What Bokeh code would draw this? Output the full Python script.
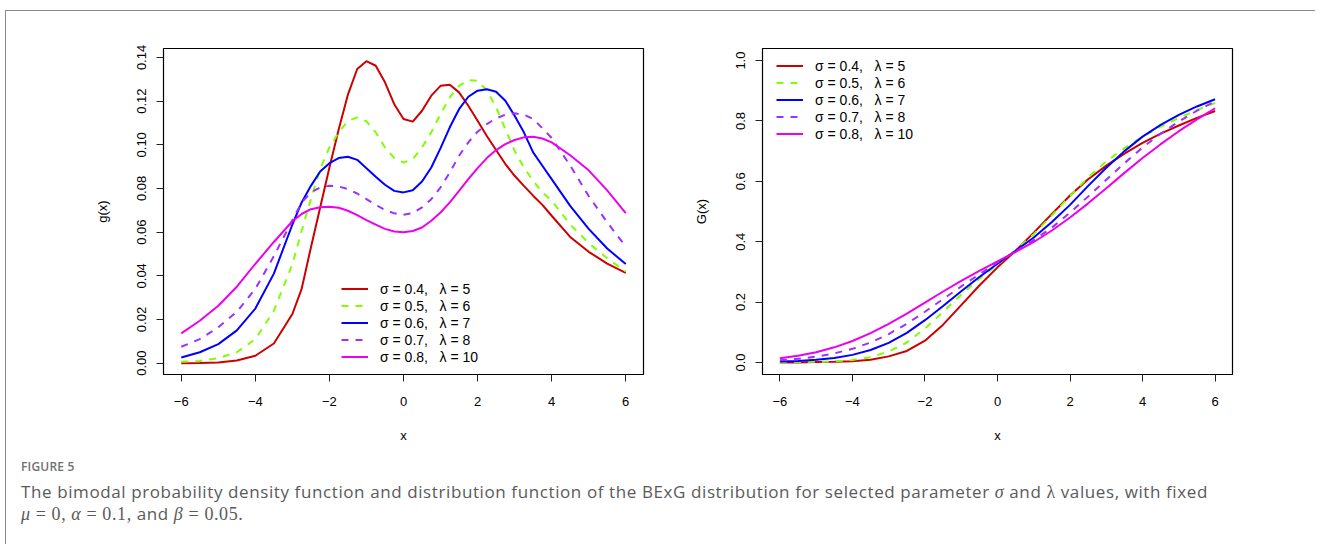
from bokeh.plotting import figure
from bokeh.models import Legend, LegendItem, Range1d, Div, FixedTicker
from bokeh.layouts import column, row
from bokeh.embed import file_html
from bokeh.resources import INLINE

# ---------------- data ----------------
series_labels = ["σ = 0.4,\u00a0\u00a0\u00a0λ = 5",
                 "σ = 0.5,\u00a0\u00a0\u00a0λ = 6",
                 "σ = 0.6,\u00a0\u00a0\u00a0λ = 7",
                 "σ = 0.7,\u00a0\u00a0\u00a0λ = 8",
                 "σ = 0.8,\u00a0\u00a0\u00a0λ = 10"]

# density g(x)
x_pdf = [-6.0, -5.5, -5.0, -4.5, -4.0, -3.5,
         -3.0, -2.75, -2.5, -2.25, -2.0, -1.75, -1.5, -1.25, -1.0, -0.75, -0.5, -0.25,
         0.0, 0.25, 0.5, 0.75, 1.0, 1.25, 1.5, 1.75, 2.0, 2.25, 2.5, 2.75,
         3.0, 3.25, 3.5, 3.75, 4.0, 4.5, 5.0, 5.5, 6.0]
pdf_s04 = [0.0000, 0.0001, 0.0003, 0.0012, 0.0034, 0.0090,
           0.0225, 0.0340, 0.0530, 0.0713, 0.0896, 0.1070, 0.1230, 0.1347, 0.1383, 0.1362,
           0.1286, 0.1186, 0.1118, 0.1106, 0.1156, 0.1225, 0.1270, 0.1275, 0.1240, 0.1179,
           0.1110, 0.1040, 0.0976, 0.0912, 0.0858, 0.0812, 0.0767, 0.0725, 0.0675,
           0.0578, 0.0510, 0.0456, 0.0413]
pdf_s05 = [0.0006, 0.0010, 0.0023, 0.0050, 0.0110, 0.0240,
           0.0453, 0.0606, 0.0751, 0.0889, 0.0988, 0.1057, 0.1110, 0.1125, 0.1107, 0.1057,
           0.0988, 0.0939, 0.0919, 0.0934, 0.0988, 0.1057, 0.1141, 0.1217, 0.1270, 0.1296,
           0.1293, 0.1250, 0.1171, 0.1072, 0.0973, 0.0896, 0.0835, 0.0782, 0.0744,
           0.0635, 0.0550, 0.0480, 0.0420]
pdf_s06 = [0.0026, 0.0050, 0.0087, 0.0150, 0.0250, 0.0410,
           0.0635, 0.0736, 0.0812, 0.0878, 0.0916, 0.0939, 0.0945, 0.0931, 0.0893, 0.0854,
           0.0817, 0.0789, 0.0782, 0.0792, 0.0832, 0.0896, 0.0985, 0.1080, 0.1163, 0.1220,
           0.1248, 0.1254, 0.1243, 0.1202, 0.1133, 0.1057, 0.0965, 0.0904, 0.0843,
           0.0720, 0.0615, 0.0525, 0.0454]
pdf_s07 = [0.0075, 0.0110, 0.0164, 0.0235, 0.0340, 0.0490,
           0.0655, 0.0736, 0.0782, 0.0805, 0.0812, 0.0809, 0.0797, 0.0777, 0.0751, 0.0725,
           0.0701, 0.0686, 0.0680, 0.0687, 0.0713, 0.0751, 0.0805, 0.0873, 0.0950, 0.1011,
           0.1060, 0.1095, 0.1121, 0.1138, 0.1144, 0.1138, 0.1118, 0.1076, 0.1031,
           0.0905, 0.0765, 0.0645, 0.0534]
pdf_s08 = [0.0136, 0.0194, 0.0263, 0.0350, 0.0455, 0.0555,
           0.0650, 0.0683, 0.0705, 0.0714, 0.0716, 0.0712, 0.0698, 0.0678, 0.0655, 0.0634,
           0.0615, 0.0603, 0.0599, 0.0605, 0.0621, 0.0652, 0.0690, 0.0736, 0.0789, 0.0843,
           0.0893, 0.0939, 0.0976, 0.1003, 0.1022, 0.1034, 0.1037, 0.1029, 0.1011,
           0.0952, 0.0883, 0.0791, 0.0687]

# distribution function G(x)
x_cdf = [-6.0, -5.5, -5.0, -4.5, -4.0, -3.5, -3.0, -2.5, -2.0, -1.5, -1.0, -0.5,
         0.0, 0.5, 1.0, 1.5, 2.0, 2.5, 3.0, 3.5, 4.0, 4.5, 5.0, 5.5, 6.0]
cdf_s04 = [0.000, 0.000, 0.001, 0.002, 0.004, 0.009, 0.020, 0.038, 0.072, 0.125,
           0.190, 0.255, 0.315, 0.370, 0.430, 0.492, 0.553, 0.607, 0.652, 0.692,
           0.727, 0.758, 0.785, 0.810, 0.833]
cdf_s05 = [0.000, 0.001, 0.002, 0.004, 0.008, 0.017, 0.036, 0.066, 0.112, 0.168,
           0.225, 0.277, 0.324, 0.372, 0.425, 0.487, 0.551, 0.613, 0.666, 0.710,
           0.748, 0.781, 0.810, 0.836, 0.860]
cdf_s06 = [0.003, 0.005, 0.009, 0.015, 0.025, 0.041, 0.065, 0.098, 0.140, 0.187,
           0.236, 0.283, 0.327, 0.370, 0.414, 0.465, 0.522, 0.585, 0.645, 0.700,
           0.748, 0.787, 0.820, 0.848, 0.872]
cdf_s07 = [0.007, 0.012, 0.019, 0.030, 0.045, 0.066, 0.094, 0.128, 0.168, 0.210,
           0.252, 0.292, 0.331, 0.368, 0.405, 0.447, 0.496, 0.550, 0.605, 0.660,
           0.712, 0.758, 0.798, 0.834, 0.865]
cdf_s08 = [0.014, 0.022, 0.034, 0.050, 0.071, 0.097, 0.128, 0.162, 0.198, 0.235,
           0.270, 0.303, 0.335, 0.366, 0.399, 0.437, 0.480, 0.527, 0.577, 0.628,
           0.677, 0.723, 0.766, 0.805, 0.842]

x_ticks = [-6, -4, -2, 0, 2, 4, 6]
x_tick_labels = ["\u22126", "\u22124", "\u22122", "0", "2", "4", "6"]
g_ticks = [0.0, 0.02, 0.04, 0.06, 0.08, 0.10, 0.12, 0.14]
g_tick_labels = ["0.00", "0.02", "0.04", "0.06", "0.08", "0.10", "0.12", "0.14"]
G_ticks = [0.0, 0.2, 0.4, 0.6, 0.8, 1.0]
G_tick_labels = ["0.0", "0.2", "0.4", "0.6", "0.8", "1.0"]

caption_title = "FIGURE 5"

# ---------------- styling ----------------
colors = ["#CD0000", "#7FFF00", "#0000FF", "#9B30FF", "#EE00EE"]
dashes = ["solid", "7 7", "solid", "7 7", "solid"]
TICK_FONT = "Liberation Sans"


def make_panel(xs, ys, yticks, ylabels, y_range, ylab, width, bleft, bright, legend_loc):
    p = figure(width=width, height=438, output_backend="svg", toolbar_location=None,
               x_range=Range1d(-6.48, 6.48), y_range=y_range,
               min_border_left=bleft, min_border_right=bright,
               min_border_top=37, min_border_bottom=75)
    p.grid.visible = False
    p.outline_line_color = "black"
    p.outline_line_width = 1.2
    p.background_fill_color = "white"
    p.border_fill_color = "white"

    rs = []
    for y, c, d in zip(ys, colors, dashes):
        r = p.line(xs, y, line_color=c, line_width=2, line_dash=d)
        rs.append(r)

    for ax in (p.xaxis[0], p.yaxis[0]):
        ax.axis_line_color = None
        ax.major_tick_in = 0
        ax.major_tick_out = 7
        ax.major_tick_line_color = "#222222"
        ax.minor_tick_line_color = None
        ax.major_label_text_font = TICK_FONT
        ax.major_label_text_font_size = "13px"
        ax.major_label_text_color = "black"
        ax.axis_label_text_font = TICK_FONT
        ax.axis_label_text_font_size = "13px"
        ax.axis_label_text_font_style = "normal"
        ax.axis_label_text_color = "black"

    p.xaxis.ticker = FixedTicker(ticks=x_ticks)
    p.xaxis.major_label_overrides = dict(zip(x_ticks, x_tick_labels))
    p.xaxis.major_label_standoff = 15
    p.xaxis.axis_label = "x"
    p.xaxis.axis_label_standoff = 19

    p.yaxis.ticker = FixedTicker(ticks=yticks)
    p.yaxis.major_label_overrides = dict(zip(yticks, ylabels))
    p.yaxis.major_label_orientation = "vertical"
    p.yaxis.major_label_standoff = 10
    p.yaxis.axis_label = ylab
    p.yaxis.axis_label_standoff = 25

    items = [LegendItem(label=lab, renderers=[r]) for lab, r in zip(series_labels, rs)]
    leg = Legend(items=items, location=legend_loc, orientation="vertical",
                 background_fill_alpha=0, border_line_alpha=0, padding=0, margin=0,
                 spacing=0, glyph_width=27, glyph_height=17, label_height=17,
                 label_standoff=12, label_text_font=TICK_FONT,
                 label_text_font_size="14px", label_text_color="black")
    p.add_layout(leg)
    return p


p1 = make_panel(x_pdf, [pdf_s04, pdf_s05, pdf_s06, pdf_s07, pdf_s08], g_ticks, g_tick_labels,
                Range1d(-0.0052, 0.1441), "g(x)", 684, 157, 47, (178, 9))
p2 = make_panel(x_cdf, [cdf_s04, cdf_s05, cdf_s06, cdf_s07, cdf_s08], G_ticks, G_tick_labels,
                Range1d(-0.04, 1.04), "G(x)", 625, 62, 83, (14, 232))

math = "font-family:'Liberation Serif'; font-style:italic; font-size:18px;"
mathr = "font-family:'Liberation Serif'; font-size:18px;"
caption_html = (
    "<div style=\"font-family:'Open Sans'; color:#707070; font-size:12px; font-weight:600;"
    " letter-spacing:0.2px; line-height:16px;\">" + caption_title + "</div>"
    "<div style=\"font-family:'Open Sans'; color:#5a5a5a; font-size:17px; line-height:22px;"
    " letter-spacing:0.6px; margin-top:6px; white-space:nowrap;\">"
    "The bimodal probability density function and distribution function of the BExG "
    "distribution for selected parameter <span style=\"" + math + "\">σ</span> and "
    "<span style=\"" + mathr + "\">λ</span> values, with fixed<br>"
    "<span style=\"" + math + "\">μ</span><span style=\"" + mathr + "\"> = 0,</span> "
    "<span style=\"" + math + "\">α</span><span style=\"" + mathr + "\"> = 0.1,</span> and "
    "<span style=\"" + math + "\">β</span><span style=\"" + mathr + "\"> = 0.05.</span>"
    "</div>"
)
caption = Div(text=caption_html, width=1280, height=85, margin=(10, 0, 0, 15))

layout = column(row(p1, p2), caption, margin=(10, 0, 0, 5),
                styles={"border-left": "1px solid #8a8a8a", "border-top": "1px solid #8a8a8a"})

open("out.html", "w").write(file_html(layout, INLINE))
